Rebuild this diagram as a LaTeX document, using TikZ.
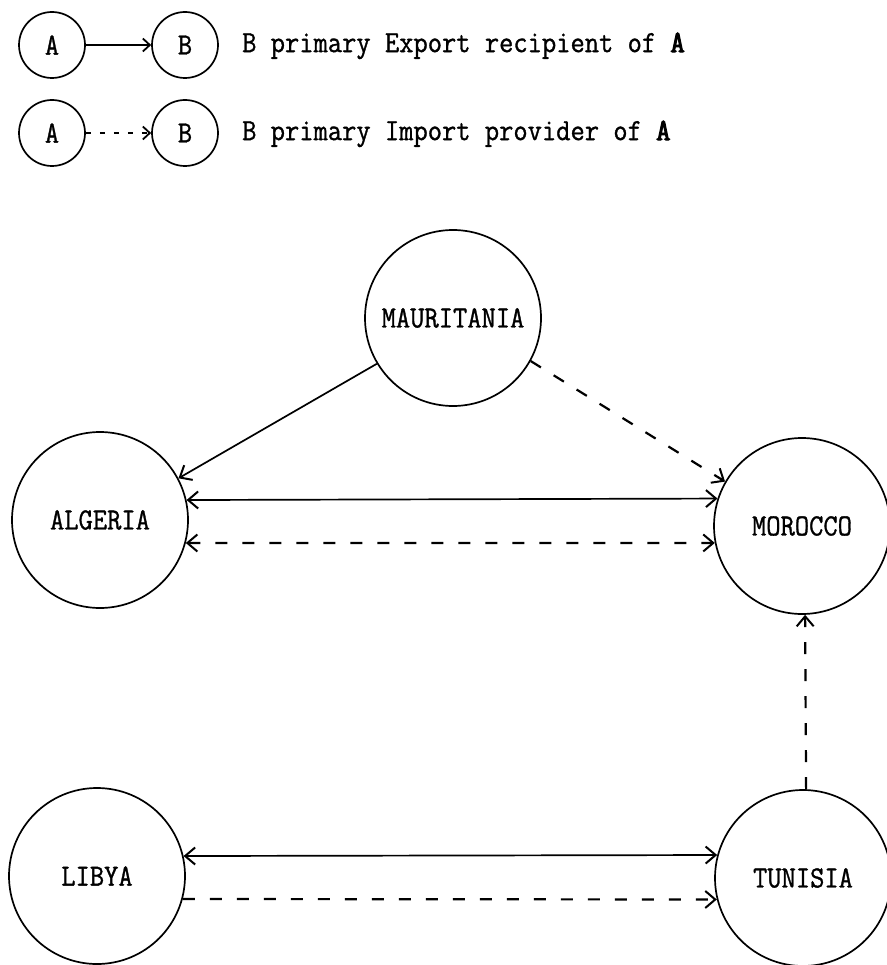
\documentclass[tikz,border=0pt]{standalone}
\usepackage{fontspec}
\usetikzlibrary{arrows.meta}
% typewriter face, slightly narrowed and thickened
\newfontfamily\typer{Latin Modern Mono}[FakeStretch=0.9,FakeBold=1.0]
\newfontfamily\typerheavy{Latin Modern Mono}[FakeStretch=0.9,FakeBold=3.5]
\tikzset{
  bigbarb/.tip={Straight Barb[length=10pt,width=17pt,line width=2pt]},
  smallbarb/.tip={Straight Barb[length=7pt,width=13pt,line width=1.8pt]}
}
\begin{document}
\begin{tikzpicture}[x=1pt,y=-1pt,
  line width=1.7pt,
  every node/.style={font=\typer\fontsize{30.8}{33}\selectfont},
  country/.style={draw,circle,minimum size=176pt,inner sep=0pt},
  keynode/.style={draw,circle,minimum size=66pt,inner sep=0pt},
  export/.style={},
  import/.style={dash pattern=on 12pt off 15pt,line width=2.2pt},
  keyimport/.style={dash pattern=on 5pt off 9pt,line width=2.2pt}]
\useasboundingbox (0,0) rectangle (886,965);

% key
\node[keynode] (ka1) at (52,45) {A};
\node[keynode] (kb1) at (185,45) {B};
\node[anchor=west] (kt1) at (238,46) {B primary Export recipient of {\typerheavy A}};
\draw[export,-{smallbarb}] (ka1) -- (kb1);

\node[keynode] (ka2) at (52,133) {A};
\node[keynode] (kb2) at (185,133) {B};
\node[anchor=west] (kt2) at (238,134) {B primary Import provider of {\typerheavy A}};
\draw[keyimport,-{smallbarb}] (ka2) -- (kb2);

% countries
\node[country] (maur) at (453,318) {MAURITANIA};
\node[country] (alg)  at (100,520) {ALGERIA};
\node[country] (mor)  at (802,526) {MOROCCO};
\node[country] (lib)  at (97,876)  {LIBYA};
\node[country] (tun)  at (803,878) {TUNISIA};

% trade links
\draw[export,-{bigbarb}] (maur.211) -- (alg.28);
\draw[import,-{bigbarb}] (maur.331) -- (mor.150);
\draw[export,{bigbarb}-{bigbarb}] (alg.13.8) -- (mor.162);
\draw[import,{bigbarb}-{bigbarb}] (alg.-15.8) -- (mor.191.8);
\draw[import,-{bigbarb}] (tun.88.7) -- (mor.-88);
\draw[export,{bigbarb}-{bigbarb}] (lib.13.1) -- (tun.165.5);
\draw[import,-{bigbarb}] (lib.-15.8) -- (tun.194.5);
\end{tikzpicture}
\end{document}
